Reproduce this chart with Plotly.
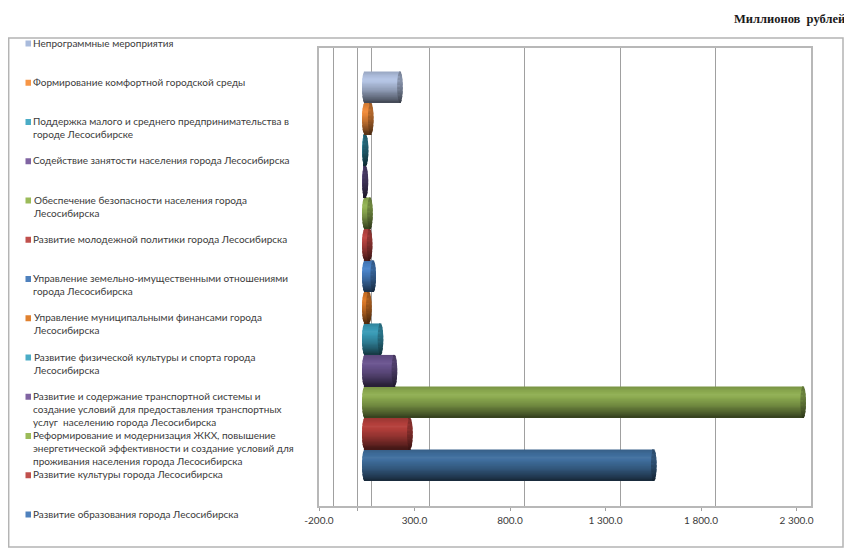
import numpy as np
import plotly.graph_objects as go

# Categories from the bottom bar to the top one
categories = [
    'Развитие образования города Лесосибирска',
    'Развитие культуры города Лесосибирска',
    'Реформирование и модернизация ЖКХ, повышение<br>энергетической эффективности и создание условий для<br>проживания населения города Лесосибирска',
    'Развитие и содержание транспортной системы и<br>создание условий для предоставления транспортных<br>услуг  населению города Лесосибирска',
    'Развитие физической культуры и спорта города<br>Лесосибирска',
    'Управление муниципальными финансами города<br>Лесосибирска',
    'Управление земельно-имущественными отношениями<br>города Лесосибирска',
    'Развитие молодежной политики города Лесосибирска',
    'Обеспечение безопасности населения города<br>Лесосибирска',
    'Содействие занятости населения города Лесосибирска',
    'Поддержка малого и среднего предпринимательства в<br>городе Лесосибирске',
    'Формирование комфортной городской среды',
    'Непрограммные мероприятия',
]
values = [1513, 236, 2295, 155, 82, 21, 44, 25, 27, 3, 4, 31, 184]
bar_colors = ['#41709f', '#b5403c', '#8fae52', '#6b5590', '#3a9cb8', '#dd7a28', '#4a84c9',
              '#bd4643', '#94b455', '#5c4a80', '#31859c', '#f08c3c', '#b4c4e4']
legend_colors = ['#4f81bd', '#c0504d', '#9bbb59', '#8064a2', '#4bacc6', '#e0812f', '#4f81bd',
                 '#c0504d', '#9bbb59', '#8064a2', '#4bacc6', '#f79646', '#a9bbdc']
tick_vals = [-200, 0, 300, 800, 1300, 1800, 2300]
tick_text = ['-200.0', '', '300.0', '800.0', '1 300.0', '1 800.0', '2 300.0']

# The page keeps an 8px body margin, so the figure is that much smaller
PAGE_MARGIN = 8
W, H = 852 - PAGE_MARGIN, 556 - PAGE_MARGIN
LEFT, RIGHT, TOP, BOTTOM = 319, 811, 48, 506
PX_PER_UNIT = 95.5 / 500
BACK_SHIFT = 14.5    # depth of the 3D wall
BAR_ZERO = 364.8     # where value 0 sits for the cylinders
CAP = 2.8            # half width of the cylinder ends
STRIPS = 24
GREY = '#a0a0a0'


def px(x):
    return (x - PAGE_MARGIN) / W


def py(y):
    return 1 - (y - PAGE_MARGIN) / H


def shade(color, f):
    r, g, b = [int(color[i:i + 2], 16) for i in (1, 3, 5)]
    if f <= 1:
        c = [v * f for v in (r, g, b)]
    else:
        c = [v + (255 - v) * (f - 1) for v in (r, g, b)]
    return 'rgb(%d,%d,%d)' % tuple(c)


fig = go.Figure()

# invisible traces keep the wall axis and the front axis alive
fig.add_trace(go.Scatter(x=[0], y=[0], mode='none', xaxis='x', yaxis='y', hoverinfo='skip'))
fig.add_trace(go.Scatter(x=[0], y=[0], mode='none', xaxis='x2', yaxis='y', hoverinfo='skip'))

# Cylinders: thin overlaid bars, lit from the upper part
v = np.array(values, dtype=float)
for k in range(STRIPS):
    t = 1 - 2 * (k + 0.5) / STRIPS
    s = np.sqrt(1 - (t * 0.985) ** 2)
    light = np.interp(t, [-1, -0.75, -0.2, 0.45, 1], [0.36, 0.52, 0.8, 1.04, 0.85])
    r = CAP * s / PX_PER_UNIT
    offset = t * 0.49 - 0.49 / STRIPS * 1.3
    width = 0.98 / STRIPS * 1.3
    fig.add_trace(go.Bar(
        y=list(range(len(values))), x=v + r, base=-r * np.ones(len(v)), orientation='h',
        xaxis='x3', yaxis='y', offset=offset, width=width, hoverinfo='skip',
        marker=dict(color=[shade(c, light) for c in bar_colors], line_width=0),
    ))
    fig.add_trace(go.Bar(
        y=list(range(len(values))), x=2 * r * np.ones(len(v)), base=v - r, orientation='h',
        xaxis='x3', yaxis='y', offset=offset, width=width, hoverinfo='skip',
        marker=dict(color=[shade(c, 0.66 * min(light, 1) + 0.08) for c in bar_colors], line_width=0),
    ))

# Legend is drawn by hand, its spacing does not fit the native one
annotations = [dict(
    text='Миллионов\u00a0\u00a0рублей', xref='paper', yref='paper', x=px(847), y=py(19),
    xanchor='right', yanchor='middle', showarrow=False,
    font=dict(family='Liberation Serif', size=12.5, color='#1a1a1a', weight='bold'),
)]
shapes = [dict(type='rect', xref='paper', yref='paper', x0=px(8.7), x1=px(843), y0=py(547), y1=py(38),
               line=dict(color='#b4b4b4', width=1.5), layer='below')]
for i, name in enumerate(categories):
    yc = 514 - 39.25 * i
    annotations.append(dict(
        text=name, xref='paper', yref='paper', x=px(31), y=py(yc - 8.5),
        xanchor='left', yanchor='top', align='left', showarrow=False,
        font=dict(family='Lato', size=10, color='#3a3a3a'),
    ))
    shapes.append(dict(type='rect', xref='paper', yref='paper', x0=px(25.5), x1=px(31),
                       y0=py(yc + 3.5), y1=py(yc - 2.5),
                       fillcolor=legend_colors[i], line_width=0))

dom = [px(LEFT), px(RIGHT)]
span = (RIGHT - LEFT) / PX_PER_UNIT
fig.update_layout(
    width=W, height=H, margin=dict(l=0, r=0, t=0, b=0, autoexpand=False),
    paper_bgcolor='white', plot_bgcolor='white', showlegend=False, barmode='overlay',
    annotations=annotations, shapes=shapes,
    xaxis=dict(domain=dom, range=[-200, -200 + span], tickmode='array', tickvals=tick_vals,
               ticktext=tick_text, ticks='outside', ticklen=3, tickcolor=GREY, ticklabelstandoff=1,
               tickfont=dict(family='Lato', size=10, color='#3a3a3a'),
               showgrid=False, zeroline=True, zerolinecolor=GREY, zerolinewidth=1.2,
               showline=True, linecolor='#b8b8b8', linewidth=1.5, mirror=True),
    xaxis2=dict(domain=dom, overlaying='x', anchor='y',
                range=[-200 - BACK_SHIFT / PX_PER_UNIT, -200 - BACK_SHIFT / PX_PER_UNIT + span],
                tickmode='array', tickvals=tick_vals, showticklabels=False, ticks='',
                showgrid=True, gridcolor=GREY, gridwidth=1.3,
                zeroline=False),
    xaxis3=dict(domain=dom, overlaying='x', anchor='y', visible=False,
                range=[(LEFT - BAR_ZERO) / PX_PER_UNIT, (RIGHT - BAR_ZERO) / PX_PER_UNIT]),
    yaxis=dict(domain=[py(BOTTOM), py(TOP)], range=[-1.3, 13.24], showgrid=False,
               zeroline=False, showticklabels=False, ticks='',
               showline=True, linecolor='#b8b8b8', linewidth=1.5, mirror=True),
)

fig.write_html("out.html")
